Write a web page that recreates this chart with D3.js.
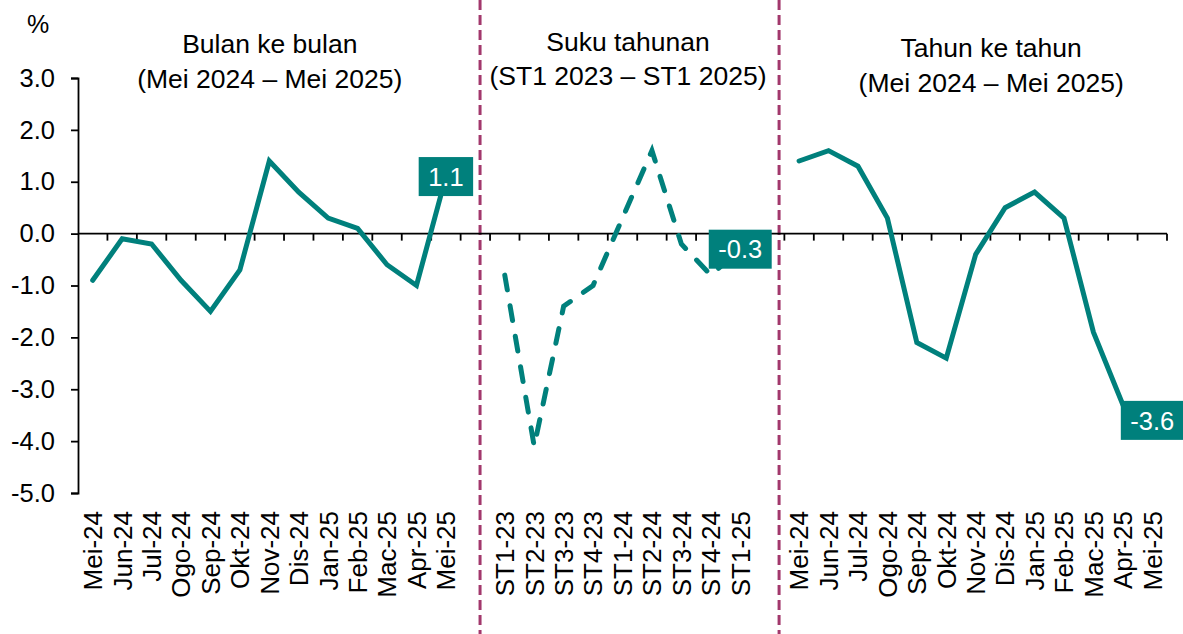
<!DOCTYPE html>
<html>
<head>
<meta charset="utf-8">
<script src="https://cdn.jsdelivr.net/npm/d3@7"></script>
<style>
  html, body { margin: 0; padding: 0; background: #fff; }
  svg { display: block; }
  text { font-family: "Liberation Sans", Arial, sans-serif; fill: #000; }
</style>
</head>
<body>
<svg id="chart" width="1183" height="634"></svg>
<script>
// ---- data ----
const monthLabels = ["Mei-24","Jun-24","Jul-24","Ogo-24","Sep-24","Okt-24","Nov-24","Dis-24","Jan-25","Feb-25","Mac-25","Apr-25","Mei-25"];
const quarterLabels = ["ST1-23","ST2-23","ST3-23","ST4-23","ST1-24","ST2-24","ST3-24","ST4-24","ST1-25"];
const momValues = [-0.9,-0.1,-0.2,-0.9,-1.5,-0.7,1.4,0.8,0.3,0.1,-0.6,-1.0,1.1];
const quarterValues = [-0.8,-4.1,-1.4,-1.0,0.3,1.6,-0.2,-0.8,-0.3];
const yoyValues = [1.4,1.6,1.3,0.3,-2.1,-2.4,-0.4,0.5,0.8,0.3,-1.9,-3.3,-3.6];
const yTicks = [3,2,1,0,-1,-2,-3,-4,-5];
const panelTitles = [
  ["Bulan ke bulan", "(Mei 2024 \u2013 Mei 2025)"],
  ["Suku tahunan", "(ST1 2023 \u2013 ST1 2025)"],
  ["Tahun ke tahun", "(Mei 2024 \u2013 Mei 2025)"]
];
const unitLabel = "%";

// ---- layout ----
const W = 1183, H = 634;
const plotLeft = 78, plotRight = 1167, plotTop = 78, plotBottom = 493;
const teal = "#00807c";
const sepColor = "#a2386c";
const FS = 25;
const fmt = v => d3.format(".1f")(v).replace("\u2212", "-");

const leftKeys = monthLabels.map((d,i) => "L" + i);
const qKeys = quarterLabels.map((d,i) => "Q" + i);
const rightKeys = monthLabels.map((d,i) => "R" + i);
const domain = [...leftKeys, "gap1", ...qKeys, "gap2", ...rightKeys];
const labelOf = {};
leftKeys.forEach((k,i) => labelOf[k] = monthLabels[i]);
qKeys.forEach((k,i) => labelOf[k] = quarterLabels[i]);
rightKeys.forEach((k,i) => labelOf[k] = monthLabels[i]);

const x = d3.scaleBand().domain(domain).range([plotLeft, plotRight]).padding(0);
const bw = x.bandwidth();
const cx = k => x(k) + bw / 2;
const y = d3.scaleLinear().domain([-5, 3]).range([plotBottom, plotTop]);

const svg = d3.select("#chart");

// separators
const seps = [x("gap1") + bw * 0.66, x("gap2") + bw * 0.82];
svg.selectAll("line.sep").data(seps).enter().append("line")
  .attr("class", "sep")
  .attr("x1", d => d).attr("x2", d => d)
  .attr("y1", 0).attr("y2", H)
  .attr("stroke", sepColor).attr("stroke-width", 3)
  .attr("stroke-dasharray", "10,5");

// y axis
const yAxis = d3.axisLeft(y).tickValues(yTicks).tickSize(7).tickPadding(16)
  .tickFormat(fmt);
const gy = svg.append("g").attr("transform", `translate(${plotLeft},0)`).call(yAxis);
gy.select(".domain").attr("stroke", "#000").attr("stroke-width", 1.8);
gy.selectAll(".tick line").attr("stroke", "#000").attr("stroke-width", 1.8);
gy.selectAll(".tick text").attr("font-size", FS + 0.5).attr("font-family", "Liberation Sans, Arial, sans-serif").attr("fill", "#000");

// zero line with ticks at category boundaries
const boundaries = domain.map(k => x(k) + bw);
svg.append("line")
  .attr("x1", plotLeft).attr("x2", plotRight).attr("y1", y(0)).attr("y2", y(0))
  .attr("stroke", "#000").attr("stroke-width", 1.8);
svg.selectAll("line.xtick").data(boundaries).enter().append("line")
  .attr("class", "xtick")
  .attr("x1", d => d).attr("x2", d => d)
  .attr("y1", y(0)).attr("y2", y(0) + 7)
  .attr("stroke", "#000").attr("stroke-width", 1.8);

// x labels (rotated)
const labelKeys = [...leftKeys, ...qKeys, ...rightKeys];
svg.selectAll("text.xl").data(labelKeys).enter().append("text")
  .attr("class", "xl")
  .attr("transform", k => `translate(${cx(k)},${plotBottom + 18}) rotate(-90)`)
  .attr("text-anchor", "end")
  .attr("dy", "0.36em")
  .attr("font-size", 26)
  .text(k => labelOf[k]);

// lines
const lineGen = d3.line().x(d => cx(d.k)).y(d => y(d.v));
const momData = leftKeys.map((k,i) => ({k, v: momValues[i]}));
const qData = qKeys.map((k,i) => ({k, v: quarterValues[i]}));
const yoyData = rightKeys.map((k,i) => ({k, v: yoyValues[i]}));

svg.append("path").datum(momData).attr("d", lineGen)
  .attr("fill", "none").attr("stroke", teal).attr("stroke-width", 5)
  .attr("stroke-linejoin", "miter").attr("stroke-linecap", "round");
svg.append("path").datum(qData).attr("d", lineGen)
  .attr("fill", "none").attr("stroke", teal).attr("stroke-width", 5)
  .attr("stroke-linejoin", "miter").attr("stroke-linecap", "round")
  .attr("stroke-dasharray", "15,16");
svg.append("path").datum(yoyData).attr("d", lineGen)
  .attr("fill", "none").attr("stroke", teal).attr("stroke-width", 5)
  .attr("stroke-linejoin", "miter").attr("stroke-linecap", "round");

// end labels
const endLabels = [momData[momData.length-1], qData[qData.length-1], yoyData[yoyData.length-1]];
endLabels.forEach(d => {
  const g = svg.append("g").attr("transform", `translate(${cx(d.k)},${y(d.v)})`);
  const t = g.append("text").attr("text-anchor", "middle").attr("dy", "0.36em")
    .attr("font-size", FS + 0.5).style("fill", "#fff").text(fmt(d.v));
  const tw = t.node().getComputedTextLength();
  g.insert("rect", "text")
    .attr("x", -tw/2 - 9.5).attr("y", -19.5)
    .attr("width", tw + 19).attr("height", 39)
    .attr("fill", teal);
});

// titles
const titleCenters = [
  (x("L0") + x("L12") + bw) / 2,
  (x("Q0") + x("Q8") + bw) / 2,
  (x("R0") + x("R12") + bw) / 2
];
const titleShift = [0.5, 5.5, 15.5];
const titleBase = [[53, 88], [51, 85], [57, 92]];
panelTitles.forEach((lines, i) => {
  lines.forEach((s, j) => {
    svg.append("text").attr("x", titleCenters[i] + titleShift[i]).attr("y", titleBase[i][j])
      .attr("text-anchor", "middle").attr("font-size", 26.5).text(s);
  });
});

svg.append("text").attr("x", 27).attr("y", 33).attr("font-size", FS).text(unitLabel);
</script>
</body>
</html>
